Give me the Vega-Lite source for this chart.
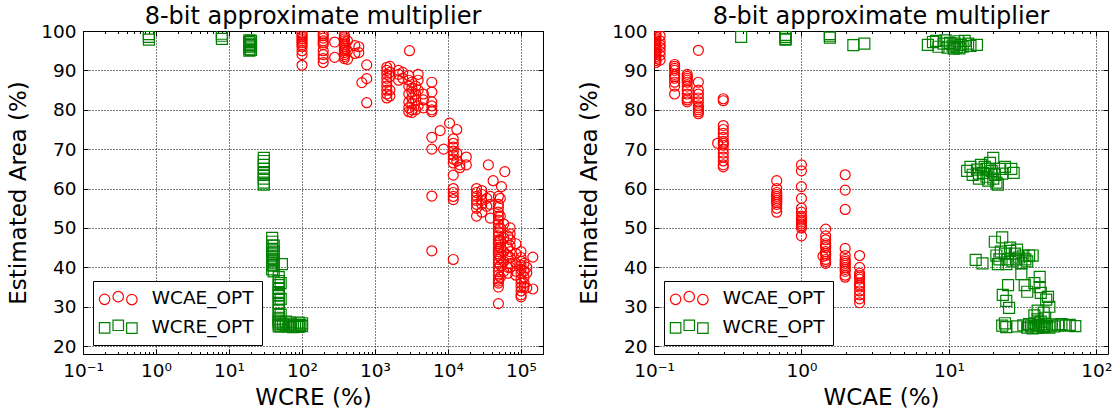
{
"$schema": "https://vega.github.io/schema/vega-lite/v6.json",
"padding": {"left": 7, "top": 4, "right": 5, "bottom": 2},
"background": "white",
"config": {
  "font": "DejaVu Sans",
  "view": {"stroke": "black", "strokeWidth": 1},
  "axis": {"domain": false, "tickColor": "black", "tickWidth": 1, "labelColor": "black", "titleColor": "black", "labelFont": "DejaVu Sans", "titleFont": "DejaVu Sans", "labelFontSize": 18.5, "titleFontSize": 23, "titleFontWeight": "normal", "gridColor": "black", "gridDash": [1, 2], "gridWidth": 1, "gridOpacity": 1, "labelOverlap": false, "labelFlush": false},
  "title": {"fontSize": 24, "fontWeight": "normal", "font": "DejaVu Sans", "color": "black", "offset": -7, "anchor": "middle"},
  "legend": {"orient": "bottom-left", "offset": 9.5, "strokeColor": "black", "fillColor": "white", "padding": 8, "cornerRadius": 0, "labelFontSize": 18.5, "labelAlign": "right", "symbolSize": 110, "symbolStrokeWidth": 1.2, "symbolOffset": 8, "labelOffset": 126, "rowPadding": 9.6, "symbolFillColor": "transparent", "symbolOpacity": 1, "labelFont": "DejaVu Sans", "labelColor": "black"}
},
"datasets": {
"wcre": [
{"series":"WCAE_OPT","err":100,"area":99.5},{"series":"WCAE_OPT","err":100,"area":99},{"series":"WCAE_OPT","err":100,"area":98.5},{"series":"WCAE_OPT","err":100,"area":98},{"series":"WCAE_OPT","err":100,"area":97.5},{"series":"WCAE_OPT","err":100,"area":97},{"series":"WCAE_OPT","err":100,"area":96.5},{"series":"WCAE_OPT","err":100,"area":96},{"series":"WCAE_OPT","err":100,"area":95},{"series":"WCAE_OPT","err":100,"area":94},{"series":"WCAE_OPT","err":100,"area":91.3},
{"series":"WCAE_OPT","err":195,"area":99.3},{"series":"WCAE_OPT","err":195,"area":98.8},{"series":"WCAE_OPT","err":195,"area":98.2},{"series":"WCAE_OPT","err":195,"area":97.5},{"series":"WCAE_OPT","err":195,"area":97},{"series":"WCAE_OPT","err":195,"area":96.5},{"series":"WCAE_OPT","err":195,"area":95},{"series":"WCAE_OPT","err":195,"area":94},{"series":"WCAE_OPT","err":195,"area":93},{"series":"WCAE_OPT","err":195,"area":92},
{"series":"WCAE_OPT","err":280,"area":97.2},{"series":"WCAE_OPT","err":280,"area":93.3},
{"series":"WCAE_OPT","err":380,"area":99},{"series":"WCAE_OPT","err":380,"area":98.5},{"series":"WCAE_OPT","err":380,"area":98},{"series":"WCAE_OPT","err":380,"area":97.5},{"series":"WCAE_OPT","err":380,"area":97},{"series":"WCAE_OPT","err":380,"area":96.5},{"series":"WCAE_OPT","err":380,"area":96},{"series":"WCAE_OPT","err":380,"area":95.5},{"series":"WCAE_OPT","err":380,"area":95},{"series":"WCAE_OPT","err":380,"area":94.5},{"series":"WCAE_OPT","err":380,"area":94},{"series":"WCAE_OPT","err":380,"area":93.5},{"series":"WCAE_OPT","err":380,"area":93},
{"series":"WCAE_OPT","err":420,"area":97.5},{"series":"WCAE_OPT","err":420,"area":95},{"series":"WCAE_OPT","err":420,"area":92.8},
{"series":"WCAE_OPT","err":530,"area":96.3},{"series":"WCAE_OPT","err":530,"area":94.3},{"series":"WCAE_OPT","err":600,"area":96},{"series":"WCAE_OPT","err":600,"area":94.5},
{"series":"WCAE_OPT","err":660,"area":86.9},{"series":"WCAE_OPT","err":770,"area":91.4},{"series":"WCAE_OPT","err":770,"area":87.9},{"series":"WCAE_OPT","err":770,"area":81.8},
{"series":"WCAE_OPT","err":1450,"area":90.8},{"series":"WCAE_OPT","err":1450,"area":90},{"series":"WCAE_OPT","err":1450,"area":89},{"series":"WCAE_OPT","err":1450,"area":88},{"series":"WCAE_OPT","err":1450,"area":87},{"series":"WCAE_OPT","err":1450,"area":86},{"series":"WCAE_OPT","err":1450,"area":85},{"series":"WCAE_OPT","err":1450,"area":84},{"series":"WCAE_OPT","err":1450,"area":83},
{"series":"WCAE_OPT","err":1600,"area":91},{"series":"WCAE_OPT","err":1600,"area":89.5},{"series":"WCAE_OPT","err":1600,"area":88.5},{"series":"WCAE_OPT","err":1600,"area":85},{"series":"WCAE_OPT","err":1600,"area":83.5},
{"series":"WCAE_OPT","err":2100,"area":90},{"series":"WCAE_OPT","err":2100,"area":89},{"series":"WCAE_OPT","err":2100,"area":87.5},{"series":"WCAE_OPT","err":2400,"area":89.5},{"series":"WCAE_OPT","err":2400,"area":88},
{"series":"WCAE_OPT","err":2970,"area":95},
{"series":"WCAE_OPT","err":2900,"area":88.7},{"series":"WCAE_OPT","err":2900,"area":87.5},{"series":"WCAE_OPT","err":2900,"area":86},{"series":"WCAE_OPT","err":2900,"area":84},{"series":"WCAE_OPT","err":2900,"area":82},{"series":"WCAE_OPT","err":2900,"area":80.5},{"series":"WCAE_OPT","err":2900,"area":79.5},
{"series":"WCAE_OPT","err":3200,"area":87},{"series":"WCAE_OPT","err":3200,"area":85.5},{"series":"WCAE_OPT","err":3200,"area":84.5},{"series":"WCAE_OPT","err":3200,"area":83},{"series":"WCAE_OPT","err":3200,"area":81.5},{"series":"WCAE_OPT","err":3200,"area":80},{"series":"WCAE_OPT","err":3200,"area":79.3},
{"series":"WCAE_OPT","err":3600,"area":86},{"series":"WCAE_OPT","err":3600,"area":84},{"series":"WCAE_OPT","err":3600,"area":82.5},{"series":"WCAE_OPT","err":3600,"area":80},
{"series":"WCAE_OPT","err":3900,"area":89},{"series":"WCAE_OPT","err":3900,"area":87.5},{"series":"WCAE_OPT","err":3900,"area":85},{"series":"WCAE_OPT","err":3900,"area":81},
{"series":"WCAE_OPT","err":4600,"area":84},{"series":"WCAE_OPT","err":4600,"area":82.5},{"series":"WCAE_OPT","err":4600,"area":80.5},
{"series":"WCAE_OPT","err":6000,"area":87},{"series":"WCAE_OPT","err":6000,"area":84.5},{"series":"WCAE_OPT","err":6000,"area":82},{"series":"WCAE_OPT","err":6000,"area":81},{"series":"WCAE_OPT","err":6000,"area":80},{"series":"WCAE_OPT","err":6000,"area":79.5},{"series":"WCAE_OPT","err":6000,"area":73},{"series":"WCAE_OPT","err":6000,"area":70},{"series":"WCAE_OPT","err":6000,"area":58.1},{"series":"WCAE_OPT","err":6000,"area":44.2},
{"series":"WCAE_OPT","err":7800,"area":74.7},{"series":"WCAE_OPT","err":8700,"area":70},{"series":"WCAE_OPT","err":10500,"area":76.6},
{"series":"WCAE_OPT","err":11800,"area":72.6},{"series":"WCAE_OPT","err":11800,"area":71.5},{"series":"WCAE_OPT","err":11800,"area":70.5},{"series":"WCAE_OPT","err":11800,"area":69.5},{"series":"WCAE_OPT","err":11800,"area":68.5},{"series":"WCAE_OPT","err":11800,"area":67.5},{"series":"WCAE_OPT","err":11800,"area":66.5},{"series":"WCAE_OPT","err":11800,"area":63.4},{"series":"WCAE_OPT","err":11800,"area":60},{"series":"WCAE_OPT","err":11800,"area":59},{"series":"WCAE_OPT","err":11800,"area":58},{"series":"WCAE_OPT","err":11800,"area":57.2},{"series":"WCAE_OPT","err":11800,"area":42},
{"series":"WCAE_OPT","err":13200,"area":75},{"series":"WCAE_OPT","err":13200,"area":69},{"series":"WCAE_OPT","err":13200,"area":67},
{"series":"WCAE_OPT","err":14500,"area":66},{"series":"WCAE_OPT","err":14500,"area":65.3},{"series":"WCAE_OPT","err":17800,"area":68},{"series":"WCAE_OPT","err":17800,"area":66},
{"series":"WCAE_OPT","err":24600,"area":60},{"series":"WCAE_OPT","err":24600,"area":59},{"series":"WCAE_OPT","err":24600,"area":58},{"series":"WCAE_OPT","err":24600,"area":57},{"series":"WCAE_OPT","err":24600,"area":56},{"series":"WCAE_OPT","err":24600,"area":55},{"series":"WCAE_OPT","err":24600,"area":53},
{"series":"WCAE_OPT","err":29000,"area":59.5},{"series":"WCAE_OPT","err":29000,"area":58.5},{"series":"WCAE_OPT","err":29000,"area":57},{"series":"WCAE_OPT","err":29000,"area":56},{"series":"WCAE_OPT","err":29000,"area":54},
{"series":"WCAE_OPT","err":34000,"area":57.5},{"series":"WCAE_OPT","err":34000,"area":55.5},{"series":"WCAE_OPT","err":38000,"area":58},{"series":"WCAE_OPT","err":38000,"area":56},{"series":"WCAE_OPT","err":38000,"area":52.5},
{"series":"WCAE_OPT","err":35700,"area":66},{"series":"WCAE_OPT","err":41500,"area":62},{"series":"WCAE_OPT","err":60000,"area":64.3},{"series":"WCAE_OPT","err":54000,"area":60.5},
{"series":"WCAE_OPT","err":49000,"area":58},{"series":"WCAE_OPT","err":49000,"area":56},{"series":"WCAE_OPT","err":49000,"area":55.2},{"series":"WCAE_OPT","err":49000,"area":54},{"series":"WCAE_OPT","err":49000,"area":53},{"series":"WCAE_OPT","err":49000,"area":52},{"series":"WCAE_OPT","err":49000,"area":51},{"series":"WCAE_OPT","err":49000,"area":50},{"series":"WCAE_OPT","err":49000,"area":49},{"series":"WCAE_OPT","err":49000,"area":48},{"series":"WCAE_OPT","err":49000,"area":47},{"series":"WCAE_OPT","err":49000,"area":46.5},{"series":"WCAE_OPT","err":49000,"area":46},{"series":"WCAE_OPT","err":49000,"area":45},{"series":"WCAE_OPT","err":49000,"area":44.5},{"series":"WCAE_OPT","err":49000,"area":44},{"series":"WCAE_OPT","err":49000,"area":43.5},{"series":"WCAE_OPT","err":49000,"area":43},{"series":"WCAE_OPT","err":49000,"area":42},{"series":"WCAE_OPT","err":49000,"area":41},{"series":"WCAE_OPT","err":49000,"area":40},{"series":"WCAE_OPT","err":49000,"area":39},{"series":"WCAE_OPT","err":49000,"area":38},{"series":"WCAE_OPT","err":49000,"area":37},{"series":"WCAE_OPT","err":49000,"area":36.5},{"series":"WCAE_OPT","err":49000,"area":36},{"series":"WCAE_OPT","err":49000,"area":35},{"series":"WCAE_OPT","err":49000,"area":30.8},
{"series":"WCAE_OPT","err":52000,"area":57.5},{"series":"WCAE_OPT","err":52000,"area":53},{"series":"WCAE_OPT","err":52000,"area":50},{"series":"WCAE_OPT","err":52000,"area":47},{"series":"WCAE_OPT","err":52000,"area":45},{"series":"WCAE_OPT","err":52000,"area":42.5},{"series":"WCAE_OPT","err":52000,"area":40.5},{"series":"WCAE_OPT","err":52000,"area":37.5},
{"series":"WCAE_OPT","err":58000,"area":51},{"series":"WCAE_OPT","err":58000,"area":47.5},{"series":"WCAE_OPT","err":58000,"area":44},{"series":"WCAE_OPT","err":58000,"area":41.5},{"series":"WCAE_OPT","err":58000,"area":39},
{"series":"WCAE_OPT","err":66000,"area":48},{"series":"WCAE_OPT","err":66000,"area":45},{"series":"WCAE_OPT","err":66000,"area":43},{"series":"WCAE_OPT","err":66000,"area":40},{"series":"WCAE_OPT","err":66000,"area":38.5},
{"series":"WCAE_OPT","err":71000,"area":50},{"series":"WCAE_OPT","err":71000,"area":48.5},{"series":"WCAE_OPT","err":71000,"area":47},{"series":"WCAE_OPT","err":71000,"area":45.5},{"series":"WCAE_OPT","err":71000,"area":44},{"series":"WCAE_OPT","err":71000,"area":42.5},{"series":"WCAE_OPT","err":71000,"area":41},{"series":"WCAE_OPT","err":71000,"area":40},
{"series":"WCAE_OPT","err":85000,"area":46},{"series":"WCAE_OPT","err":85000,"area":43.5},{"series":"WCAE_OPT","err":85000,"area":41},{"series":"WCAE_OPT","err":85000,"area":39},{"series":"WCAE_OPT","err":85000,"area":38},
{"series":"WCAE_OPT","err":100000,"area":44},{"series":"WCAE_OPT","err":100000,"area":42.5},{"series":"WCAE_OPT","err":100000,"area":41.6},{"series":"WCAE_OPT","err":100000,"area":40.5},{"series":"WCAE_OPT","err":100000,"area":39.5},{"series":"WCAE_OPT","err":100000,"area":38.5},{"series":"WCAE_OPT","err":100000,"area":37},{"series":"WCAE_OPT","err":100000,"area":36},{"series":"WCAE_OPT","err":100000,"area":35},{"series":"WCAE_OPT","err":100000,"area":34},{"series":"WCAE_OPT","err":100000,"area":33},{"series":"WCAE_OPT","err":100000,"area":32.5},
{"series":"WCAE_OPT","err":110000,"area":41},{"series":"WCAE_OPT","err":110000,"area":39},{"series":"WCAE_OPT","err":110000,"area":37.5},{"series":"WCAE_OPT","err":110000,"area":36},{"series":"WCAE_OPT","err":110000,"area":35},
{"series":"WCAE_OPT","err":120000,"area":40},{"series":"WCAE_OPT","err":120000,"area":38.6},{"series":"WCAE_OPT","err":120000,"area":34.8},{"series":"WCAE_OPT","err":145000,"area":42.6},{"series":"WCAE_OPT","err":145000,"area":34.5},
{"series":"WCRE_OPT","err":0.8,"area":97.8},{"series":"WCRE_OPT","err":0.8,"area":98.5},{"series":"WCRE_OPT","err":0.8,"area":99.2},
{"series":"WCRE_OPT","err":8,"area":98},{"series":"WCRE_OPT","err":8,"area":98.8},{"series":"WCRE_OPT","err":8,"area":99.3},
{"series":"WCRE_OPT","err":19,"area":95},{"series":"WCRE_OPT","err":19,"area":95.5},{"series":"WCRE_OPT","err":19,"area":96},{"series":"WCRE_OPT","err":19,"area":96.3},{"series":"WCRE_OPT","err":19,"area":96.8},{"series":"WCRE_OPT","err":19,"area":97.2},{"series":"WCRE_OPT","err":19,"area":97.6},
{"series":"WCRE_OPT","err":20,"area":95.2},{"series":"WCRE_OPT","err":20,"area":96.5},{"series":"WCRE_OPT","err":20,"area":97.5},
{"series":"WCRE_OPT","err":30,"area":61},{"series":"WCRE_OPT","err":30,"area":61.5},{"series":"WCRE_OPT","err":30,"area":62.5},{"series":"WCRE_OPT","err":30,"area":63.5},{"series":"WCRE_OPT","err":30,"area":64},{"series":"WCRE_OPT","err":30,"area":65},{"series":"WCRE_OPT","err":30,"area":66},{"series":"WCRE_OPT","err":30,"area":67},{"series":"WCRE_OPT","err":30,"area":67.8},
{"series":"WCRE_OPT","err":39,"area":47.5},{"series":"WCRE_OPT","err":39,"area":46.5},{"series":"WCRE_OPT","err":39,"area":45.5},{"series":"WCRE_OPT","err":39,"area":44.5},{"series":"WCRE_OPT","err":39,"area":43.5},{"series":"WCRE_OPT","err":39,"area":43},{"series":"WCRE_OPT","err":39,"area":42.5},{"series":"WCRE_OPT","err":39,"area":42},{"series":"WCRE_OPT","err":39,"area":41.5},{"series":"WCRE_OPT","err":39,"area":41},{"series":"WCRE_OPT","err":39,"area":40.5},{"series":"WCRE_OPT","err":39,"area":39.5},
{"series":"WCRE_OPT","err":41,"area":45.5},{"series":"WCRE_OPT","err":41,"area":44},{"series":"WCRE_OPT","err":41,"area":42},{"series":"WCRE_OPT","err":41,"area":40.5},{"series":"WCRE_OPT","err":41,"area":39},
{"series":"WCRE_OPT","err":53,"area":40.8},
{"series":"WCRE_OPT","err":48,"area":37.5},{"series":"WCRE_OPT","err":48,"area":36.5},{"series":"WCRE_OPT","err":48,"area":35.5},{"series":"WCRE_OPT","err":48,"area":34.5},{"series":"WCRE_OPT","err":48,"area":33.5},{"series":"WCRE_OPT","err":48,"area":33},{"series":"WCRE_OPT","err":48,"area":32},{"series":"WCRE_OPT","err":48,"area":31},{"series":"WCRE_OPT","err":48,"area":30},{"series":"WCRE_OPT","err":48,"area":29},{"series":"WCRE_OPT","err":48,"area":28},{"series":"WCRE_OPT","err":48,"area":27},{"series":"WCRE_OPT","err":48,"area":26.5},{"series":"WCRE_OPT","err":48,"area":26},{"series":"WCRE_OPT","err":48,"area":25.5},{"series":"WCRE_OPT","err":48,"area":25},
{"series":"WCRE_OPT","err":51,"area":36},{"series":"WCRE_OPT","err":51,"area":32},{"series":"WCRE_OPT","err":51,"area":28},{"series":"WCRE_OPT","err":51,"area":26},{"series":"WCRE_OPT","err":51,"area":25},
{"series":"WCRE_OPT","err":55,"area":25.5},{"series":"WCRE_OPT","err":60,"area":25.2},{"series":"WCRE_OPT","err":60,"area":26.2},{"series":"WCRE_OPT","err":65,"area":25},{"series":"WCRE_OPT","err":68,"area":26},{"series":"WCRE_OPT","err":70,"area":25.5},{"series":"WCRE_OPT","err":75,"area":24.8},{"series":"WCRE_OPT","err":80,"area":25.3},{"series":"WCRE_OPT","err":85,"area":25},{"series":"WCRE_OPT","err":90,"area":24.9},{"series":"WCRE_OPT","err":90,"area":26},{"series":"WCRE_OPT","err":95,"area":25.4},{"series":"WCRE_OPT","err":100,"area":25.1},{"series":"WCRE_OPT","err":100,"area":25.8}
],
"wcae": [
{"series":"WCAE_OPT","err":0.103,"area":99.5},{"series":"WCAE_OPT","err":0.103,"area":99},{"series":"WCAE_OPT","err":0.103,"area":98.5},{"series":"WCAE_OPT","err":0.103,"area":98},{"series":"WCAE_OPT","err":0.103,"area":97.5},{"series":"WCAE_OPT","err":0.103,"area":97},{"series":"WCAE_OPT","err":0.103,"area":96.5},{"series":"WCAE_OPT","err":0.103,"area":96},{"series":"WCAE_OPT","err":0.103,"area":95.5},{"series":"WCAE_OPT","err":0.103,"area":95},{"series":"WCAE_OPT","err":0.103,"area":94.5},{"series":"WCAE_OPT","err":0.103,"area":94},{"series":"WCAE_OPT","err":0.103,"area":93.5},{"series":"WCAE_OPT","err":0.103,"area":93},{"series":"WCAE_OPT","err":0.103,"area":92.5},{"series":"WCAE_OPT","err":0.103,"area":92},
{"series":"WCAE_OPT","err":0.11,"area":98.8},{"series":"WCAE_OPT","err":0.11,"area":97.5},{"series":"WCAE_OPT","err":0.11,"area":96.5},{"series":"WCAE_OPT","err":0.11,"area":95.8},{"series":"WCAE_OPT","err":0.11,"area":94.8},{"series":"WCAE_OPT","err":0.11,"area":93.8},{"series":"WCAE_OPT","err":0.11,"area":92.6},
{"series":"WCAE_OPT","err":0.138,"area":91.5},{"series":"WCAE_OPT","err":0.138,"area":91},{"series":"WCAE_OPT","err":0.138,"area":90.5},{"series":"WCAE_OPT","err":0.138,"area":90},{"series":"WCAE_OPT","err":0.138,"area":89},{"series":"WCAE_OPT","err":0.138,"area":88.5},{"series":"WCAE_OPT","err":0.138,"area":88},{"series":"WCAE_OPT","err":0.138,"area":87},{"series":"WCAE_OPT","err":0.138,"area":86},{"series":"WCAE_OPT","err":0.138,"area":84},
{"series":"WCAE_OPT","err":0.168,"area":89},{"series":"WCAE_OPT","err":0.168,"area":88.5},{"series":"WCAE_OPT","err":0.168,"area":88},{"series":"WCAE_OPT","err":0.168,"area":87.5},{"series":"WCAE_OPT","err":0.168,"area":87},{"series":"WCAE_OPT","err":0.168,"area":86},{"series":"WCAE_OPT","err":0.168,"area":85},{"series":"WCAE_OPT","err":0.168,"area":84},{"series":"WCAE_OPT","err":0.168,"area":83},{"series":"WCAE_OPT","err":0.168,"area":82.5},{"series":"WCAE_OPT","err":0.168,"area":82},
{"series":"WCAE_OPT","err":0.2,"area":95.1},{"series":"WCAE_OPT","err":0.2,"area":87},{"series":"WCAE_OPT","err":0.2,"area":85},{"series":"WCAE_OPT","err":0.2,"area":84},{"series":"WCAE_OPT","err":0.2,"area":83},{"series":"WCAE_OPT","err":0.2,"area":82},{"series":"WCAE_OPT","err":0.2,"area":81},{"series":"WCAE_OPT","err":0.2,"area":80.5},{"series":"WCAE_OPT","err":0.2,"area":80},{"series":"WCAE_OPT","err":0.2,"area":79.5},{"series":"WCAE_OPT","err":0.2,"area":79},
{"series":"WCAE_OPT","err":0.27,"area":71.5},
{"series":"WCAE_OPT","err":0.295,"area":82.8},{"series":"WCAE_OPT","err":0.295,"area":82.3},{"series":"WCAE_OPT","err":0.295,"area":76},{"series":"WCAE_OPT","err":0.295,"area":75},{"series":"WCAE_OPT","err":0.295,"area":74},{"series":"WCAE_OPT","err":0.295,"area":73},{"series":"WCAE_OPT","err":0.295,"area":72},{"series":"WCAE_OPT","err":0.295,"area":71.5},{"series":"WCAE_OPT","err":0.295,"area":71},{"series":"WCAE_OPT","err":0.295,"area":70},{"series":"WCAE_OPT","err":0.295,"area":69},{"series":"WCAE_OPT","err":0.295,"area":68},{"series":"WCAE_OPT","err":0.295,"area":67},{"series":"WCAE_OPT","err":0.295,"area":66},{"series":"WCAE_OPT","err":0.295,"area":65.5},
{"series":"WCAE_OPT","err":0.68,"area":62},{"series":"WCAE_OPT","err":0.68,"area":60},{"series":"WCAE_OPT","err":0.68,"area":59},{"series":"WCAE_OPT","err":0.68,"area":58.5},{"series":"WCAE_OPT","err":0.68,"area":58},{"series":"WCAE_OPT","err":0.68,"area":57.5},{"series":"WCAE_OPT","err":0.68,"area":57},{"series":"WCAE_OPT","err":0.68,"area":56.5},{"series":"WCAE_OPT","err":0.68,"area":56},{"series":"WCAE_OPT","err":0.68,"area":55},{"series":"WCAE_OPT","err":0.68,"area":54},
{"series":"WCAE_OPT","err":1.0,"area":66},{"series":"WCAE_OPT","err":1.0,"area":64.5},{"series":"WCAE_OPT","err":1.0,"area":60.5},{"series":"WCAE_OPT","err":1.0,"area":57.5},{"series":"WCAE_OPT","err":1.0,"area":55},{"series":"WCAE_OPT","err":1.0,"area":54},{"series":"WCAE_OPT","err":1.0,"area":53},{"series":"WCAE_OPT","err":1.0,"area":52.5},{"series":"WCAE_OPT","err":1.0,"area":52},{"series":"WCAE_OPT","err":1.0,"area":51.5},{"series":"WCAE_OPT","err":1.0,"area":51},{"series":"WCAE_OPT","err":1.0,"area":50.5},{"series":"WCAE_OPT","err":1.0,"area":50},{"series":"WCAE_OPT","err":1.0,"area":48},
{"series":"WCAE_OPT","err":1.4,"area":42.8},
{"series":"WCAE_OPT","err":1.46,"area":49.7},{"series":"WCAE_OPT","err":1.46,"area":48},{"series":"WCAE_OPT","err":1.46,"area":47},{"series":"WCAE_OPT","err":1.46,"area":46},{"series":"WCAE_OPT","err":1.46,"area":45.5},{"series":"WCAE_OPT","err":1.46,"area":45},{"series":"WCAE_OPT","err":1.46,"area":44},{"series":"WCAE_OPT","err":1.46,"area":43.5},{"series":"WCAE_OPT","err":1.46,"area":43},{"series":"WCAE_OPT","err":1.46,"area":42},{"series":"WCAE_OPT","err":1.46,"area":41.5},{"series":"WCAE_OPT","err":1.46,"area":41},
{"series":"WCAE_OPT","err":1.98,"area":63.5},{"series":"WCAE_OPT","err":1.98,"area":59.6},{"series":"WCAE_OPT","err":1.98,"area":54.7},{"series":"WCAE_OPT","err":1.98,"area":44.8},{"series":"WCAE_OPT","err":1.98,"area":43},{"series":"WCAE_OPT","err":1.98,"area":42},{"series":"WCAE_OPT","err":1.98,"area":41.5},{"series":"WCAE_OPT","err":1.98,"area":41},{"series":"WCAE_OPT","err":1.98,"area":40.5},{"series":"WCAE_OPT","err":1.98,"area":40},{"series":"WCAE_OPT","err":1.98,"area":39.5},{"series":"WCAE_OPT","err":1.98,"area":39},{"series":"WCAE_OPT","err":1.98,"area":38},{"series":"WCAE_OPT","err":1.98,"area":37.5},
{"series":"WCAE_OPT","err":2.48,"area":43},{"series":"WCAE_OPT","err":2.48,"area":40},{"series":"WCAE_OPT","err":2.48,"area":38.5},{"series":"WCAE_OPT","err":2.48,"area":38},{"series":"WCAE_OPT","err":2.48,"area":37.5},{"series":"WCAE_OPT","err":2.48,"area":37},{"series":"WCAE_OPT","err":2.48,"area":36},{"series":"WCAE_OPT","err":2.48,"area":35.5},{"series":"WCAE_OPT","err":2.48,"area":35},{"series":"WCAE_OPT","err":2.48,"area":34},{"series":"WCAE_OPT","err":2.48,"area":33},{"series":"WCAE_OPT","err":2.48,"area":32},{"series":"WCAE_OPT","err":2.48,"area":31},
{"series":"WCRE_OPT","err":0.39,"area":98.5},{"series":"WCRE_OPT","err":0.78,"area":99},{"series":"WCRE_OPT","err":0.78,"area":98.5},{"series":"WCRE_OPT","err":0.78,"area":98},{"series":"WCRE_OPT","err":0.78,"area":97.8},{"series":"WCRE_OPT","err":1.56,"area":98.8},{"series":"WCRE_OPT","err":1.56,"area":98.3},{"series":"WCRE_OPT","err":1.56,"area":99.2},{"series":"WCRE_OPT","err":2.25,"area":96.4},{"series":"WCRE_OPT","err":2.67,"area":96.8},
{"series":"WCRE_OPT","err":7.2,"area":96.5},{"series":"WCRE_OPT","err":7.8,"area":97.2},{"series":"WCRE_OPT","err":8.2,"area":97.5},{"series":"WCRE_OPT","err":8.5,"area":96},{"series":"WCRE_OPT","err":9.2,"area":96.8},{"series":"WCRE_OPT","err":9.5,"area":97.6},{"series":"WCRE_OPT","err":9.8,"area":95.8},{"series":"WCRE_OPT","err":10.2,"area":97},{"series":"WCRE_OPT","err":10.6,"area":96.3},{"series":"WCRE_OPT","err":10.8,"area":95.5},{"series":"WCRE_OPT","err":11,"area":96.8},{"series":"WCRE_OPT","err":11.3,"area":95.9},{"series":"WCRE_OPT","err":11.6,"area":97.4},{"series":"WCRE_OPT","err":11.8,"area":95.6},{"series":"WCRE_OPT","err":12,"area":96.5},{"series":"WCRE_OPT","err":12.4,"area":96},{"series":"WCRE_OPT","err":12.8,"area":97.5},{"series":"WCRE_OPT","err":13.5,"area":96.8},{"series":"WCRE_OPT","err":14,"area":96.2},{"series":"WCRE_OPT","err":15.5,"area":96.5},
{"series":"WCRE_OPT","err":13.3,"area":64.5},{"series":"WCRE_OPT","err":14,"area":65.5},{"series":"WCRE_OPT","err":14.5,"area":63.5},{"series":"WCRE_OPT","err":15.5,"area":64.8},{"series":"WCRE_OPT","err":16,"area":62.5},{"series":"WCRE_OPT","err":16,"area":63.8},{"series":"WCRE_OPT","err":16.5,"area":66},{"series":"WCRE_OPT","err":17,"area":64},{"series":"WCRE_OPT","err":17.5,"area":65.5},{"series":"WCRE_OPT","err":18,"area":63},{"series":"WCRE_OPT","err":18,"area":65},{"series":"WCRE_OPT","err":18.5,"area":62},{"series":"WCRE_OPT","err":19,"area":66.5},{"series":"WCRE_OPT","err":19.5,"area":64.5},{"series":"WCRE_OPT","err":20,"area":67.8},{"series":"WCRE_OPT","err":20,"area":62.5},{"series":"WCRE_OPT","err":20.5,"area":63.5},{"series":"WCRE_OPT","err":21,"area":61.5},{"series":"WCRE_OPT","err":21.5,"area":61},{"series":"WCRE_OPT","err":22,"area":65},{"series":"WCRE_OPT","err":23,"area":63.8},{"series":"WCRE_OPT","err":24,"area":65.5},{"series":"WCRE_OPT","err":26.5,"area":65},{"series":"WCRE_OPT","err":27.5,"area":64},
{"series":"WCRE_OPT","err":15.2,"area":41.9},{"series":"WCRE_OPT","err":16.9,"area":41},{"series":"WCRE_OPT","err":20.5,"area":46.5},{"series":"WCRE_OPT","err":23,"area":47.6},{"series":"WCRE_OPT","err":21,"area":43},{"series":"WCRE_OPT","err":22,"area":42},{"series":"WCRE_OPT","err":22.5,"area":44},{"series":"WCRE_OPT","err":24,"area":43.5},{"series":"WCRE_OPT","err":25,"area":42},{"series":"WCRE_OPT","err":26,"area":45},{"series":"WCRE_OPT","err":27,"area":41.5},{"series":"WCRE_OPT","err":28,"area":43.5},{"series":"WCRE_OPT","err":29,"area":44.5},{"series":"WCRE_OPT","err":30,"area":42.5},{"series":"WCRE_OPT","err":31,"area":41},{"series":"WCRE_OPT","err":32,"area":43},{"series":"WCRE_OPT","err":33,"area":42},{"series":"WCRE_OPT","err":34,"area":41.5},{"series":"WCRE_OPT","err":35,"area":43},{"series":"WCRE_OPT","err":37,"area":43},{"series":"WCRE_OPT","err":31,"area":38.3},{"series":"WCRE_OPT","err":21.5,"area":40.8},{"series":"WCRE_OPT","err":24.5,"area":40.8},{"series":"WCRE_OPT","err":26,"area":44.2},{"series":"WCRE_OPT","err":28.5,"area":42},
{"series":"WCRE_OPT","err":25.2,"area":35.5},{"series":"WCRE_OPT","err":23.2,"area":33},{"series":"WCRE_OPT","err":25.6,"area":29.7},{"series":"WCRE_OPT","err":24.5,"area":31.5},{"series":"WCRE_OPT","err":32.7,"area":35.5},{"series":"WCRE_OPT","err":34,"area":33.8},{"series":"WCRE_OPT","err":38,"area":36},{"series":"WCRE_OPT","err":41.3,"area":37.6},{"series":"WCRE_OPT","err":41.3,"area":35},{"series":"WCRE_OPT","err":42,"area":33.5},{"series":"WCRE_OPT","err":45.7,"area":31.8},{"series":"WCRE_OPT","err":47,"area":32.5},{"series":"WCRE_OPT","err":44,"area":28.5},{"series":"WCRE_OPT","err":48,"area":30},{"series":"WCRE_OPT","err":40,"area":29},
{"series":"WCRE_OPT","err":23,"area":25.2},{"series":"WCRE_OPT","err":24,"area":25.8},{"series":"WCRE_OPT","err":24.5,"area":24.8},{"series":"WCRE_OPT","err":29,"area":25},{"series":"WCRE_OPT","err":32,"area":25.3},{"series":"WCRE_OPT","err":34,"area":24.7},{"series":"WCRE_OPT","err":35,"area":25.6},{"series":"WCRE_OPT","err":36,"area":25},{"series":"WCRE_OPT","err":37,"area":24.5},{"series":"WCRE_OPT","err":38,"area":25.8},{"series":"WCRE_OPT","err":39,"area":25.2},{"series":"WCRE_OPT","err":40,"area":24.6},{"series":"WCRE_OPT","err":41,"area":25.4},{"series":"WCRE_OPT","err":42,"area":26.2},{"series":"WCRE_OPT","err":43,"area":25},{"series":"WCRE_OPT","err":44,"area":24.8},{"series":"WCRE_OPT","err":45,"area":25.5},{"series":"WCRE_OPT","err":46,"area":25.1},{"series":"WCRE_OPT","err":48,"area":24.7},{"series":"WCRE_OPT","err":50,"area":25.5},{"series":"WCRE_OPT","err":52,"area":25},{"series":"WCRE_OPT","err":55,"area":25.3},{"series":"WCRE_OPT","err":58,"area":25.6},{"series":"WCRE_OPT","err":62,"area":25.2},{"series":"WCRE_OPT","err":66,"area":25.4},{"series":"WCRE_OPT","err":72,"area":25.1},{"series":"WCRE_OPT","err":40,"area":26.8},{"series":"WCRE_OPT","err":45,"area":27.2},{"series":"WCRE_OPT","err":38,"area":27.8}
]
},
"spacing": 34,
"resolve": {"scale": {"color": "independent", "shape": "independent"}},
"hconcat": [
{
  "title": "8-bit approximate multiplier",
  "width": 460, "height": 323,
  "data": {"name": "wcre"},
  "layer": [
    {"transform": [{"filter": "datum.series === 'WCAE_OPT'"}],
     "mark": {"type": "point", "filled": false, "strokeWidth": 1.2, "opacity": 1, "clip": true, "size": 110, "shape": "M-0.95,0A0.95,0.95,0,1,1,0.95,0A0.95,0.95,0,1,1,-0.95,0Z"},
     "encoding": {
       "x": {"field": "err", "type": "quantitative", "scale": {"type": "log", "domain": [0.1, 200000], "nice": false},
             "axis": {"orient": "bottom", "title": "WCRE (%)", "titlePadding": 4,
               "values": [0.1,0.2,0.3,0.4,0.5,0.6,0.7,0.8,0.9,1,2,3,4,5,6,7,8,9,10,20,30,40,50,60,70,80,90,100,200,300,400,500,600,700,800,900,1000,2000,3000,4000,5000,6000,7000,8000,9000,10000,20000,30000,40000,50000,60000,70000,80000,90000,100000,200000],
               "labelExpr": "abs(log(datum.value)/LN10-round(log(datum.value)/LN10))<0.001 ? '10' + replace(replace(replace(replace(replace(replace(replace(''+round(log(datum.value)/LN10),'-','⁻'),'0','⁰'),'1','¹'),'2','²'),'3','³'),'4','⁴'),'5','⁵') : ''",
               "grid": true,
               "gridOpacity": {"condition": {"test": "abs(log(datum.value)/LN10-round(log(datum.value)/LN10))<0.001", "value": 1}, "value": 0},
               "tickSize": {"condition": {"test": "abs(log(datum.value)/LN10-round(log(datum.value)/LN10))<0.001", "value": -5}, "value": -2.5},
               "labelPadding": 12}},
       "y": {"field": "area", "type": "quantitative", "scale": {"domain": [18, 100], "nice": false, "zero": false},
             "axis": {"orient": "left", "title": "Estimated Area (%)", "values": [20,30,40,50,60,70,80,90,100], "grid": true, "tickSize": -5, "labelPadding": 12, "titlePadding": 10}},
       "color": {"field": "series", "type": "nominal", "scale": {"domain": ["WCAE_OPT", "WCRE_OPT"], "range": ["#ff0000", "#008000"]}, "legend": {"title": null}}
     }},
    {"transform": [{"filter": "datum.series === 'WCRE_OPT'"}],
     "mark": {"type": "point", "filled": false, "strokeWidth": 1.2, "opacity": 1, "clip": true, "size": 110, "shape": "M-1.05,-1.05H1.05V1.05H-1.05Z"},
     "encoding": {
       "x": {"field": "err", "type": "quantitative", "axis": null},
       "y": {"field": "area", "type": "quantitative", "axis": null},
       "color": {"field": "series", "type": "nominal", "scale": {"domain": ["WCAE_OPT", "WCRE_OPT"], "range": ["#ff0000", "#008000"]}, "legend": {"title": null}}
     }},
    {"mark": {"type": "point", "opacity": 0, "filled": false},
     "encoding": {
       "x": {"field": "err", "type": "quantitative",
             "axis": {"orient": "top", "title": null, "labels": false, "grid": false,
               "values": [0.1,0.2,0.3,0.4,0.5,0.6,0.7,0.8,0.9,1,2,3,4,5,6,7,8,9,10,20,30,40,50,60,70,80,90,100,200,300,400,500,600,700,800,900,1000,2000,3000,4000,5000,6000,7000,8000,9000,10000,20000,30000,40000,50000,60000,70000,80000,90000,100000,200000],
               "tickSize": {"condition": {"test": "abs(log(datum.value)/LN10-round(log(datum.value)/LN10))<0.001", "value": -5}, "value": -2.5}}},
       "y": {"field": "area", "type": "quantitative",
             "axis": {"orient": "right", "title": null, "labels": false, "grid": false, "values": [20,30,40,50,60,70,80,90,100], "tickSize": -5}},
       "shape": {"field": "series", "type": "nominal", "scale": {"domain": ["WCAE_OPT", "WCRE_OPT"], "range": ["M-3.6,0.2A1,1,0,1,1,-1.6,0.2A1,1,0,1,1,-3.6,0.2ZM-1,-0.3A1,1,0,1,1,1,-0.3A1,1,0,1,1,-1,-0.3ZM1.6,0.25A1,1,0,1,1,3.6,0.25A1,1,0,1,1,1.6,0.25Z", "M-3.6,-0.8H-1.6V1.2H-3.6ZM-1,-1.3H1V0.7H-1ZM1.6,-0.75H3.6V1.25H1.6Z"]}, "legend": {"title": null}}
     }}
  ],
  "resolve": {"axis": {"x": "independent", "y": "independent"}}
},
{
  "title": "8-bit approximate multiplier",
  "width": 454, "height": 323,
  "data": {"name": "wcae"},
  "layer": [
    {"transform": [{"filter": "datum.series === 'WCAE_OPT'"}],
     "mark": {"type": "point", "filled": false, "strokeWidth": 1.2, "opacity": 1, "clip": true, "size": 110, "shape": "M-0.95,0A0.95,0.95,0,1,1,0.95,0A0.95,0.95,0,1,1,-0.95,0Z"},
     "encoding": {
       "x": {"field": "err", "type": "quantitative", "scale": {"type": "log", "domain": [0.1, 120], "nice": false},
             "axis": {"orient": "bottom", "title": "WCAE (%)", "titlePadding": 4,
               "values": [0.1,0.2,0.3,0.4,0.5,0.6,0.7,0.8,0.9,1,2,3,4,5,6,7,8,9,10,20,30,40,50,60,70,80,90,100],
               "labelExpr": "abs(log(datum.value)/LN10-round(log(datum.value)/LN10))<0.001 ? '10' + replace(replace(replace(replace(replace(replace(replace(''+round(log(datum.value)/LN10),'-','⁻'),'0','⁰'),'1','¹'),'2','²'),'3','³'),'4','⁴'),'5','⁵') : ''",
               "grid": true,
               "gridOpacity": {"condition": {"test": "abs(log(datum.value)/LN10-round(log(datum.value)/LN10))<0.001", "value": 1}, "value": 0},
               "tickSize": {"condition": {"test": "abs(log(datum.value)/LN10-round(log(datum.value)/LN10))<0.001", "value": -5}, "value": -2.5},
               "labelPadding": 12}},
       "y": {"field": "area", "type": "quantitative", "scale": {"domain": [18, 100], "nice": false, "zero": false},
             "axis": {"orient": "left", "title": "Estimated Area (%)", "values": [20,30,40,50,60,70,80,90,100], "grid": true, "tickSize": -5, "labelPadding": 12, "titlePadding": 10}},
       "color": {"field": "series", "type": "nominal", "scale": {"domain": ["WCAE_OPT", "WCRE_OPT"], "range": ["#ff0000", "#008000"]}, "legend": {"title": null}}
     }},
    {"transform": [{"filter": "datum.series === 'WCRE_OPT'"}],
     "mark": {"type": "point", "filled": false, "strokeWidth": 1.2, "opacity": 1, "clip": true, "size": 110, "shape": "M-1.05,-1.05H1.05V1.05H-1.05Z"},
     "encoding": {
       "x": {"field": "err", "type": "quantitative", "axis": null},
       "y": {"field": "area", "type": "quantitative", "axis": null},
       "color": {"field": "series", "type": "nominal", "scale": {"domain": ["WCAE_OPT", "WCRE_OPT"], "range": ["#ff0000", "#008000"]}, "legend": {"title": null}}
     }},
    {"mark": {"type": "point", "opacity": 0, "filled": false},
     "encoding": {
       "x": {"field": "err", "type": "quantitative",
             "axis": {"orient": "top", "title": null, "labels": false, "grid": false,
               "values": [0.1,0.2,0.3,0.4,0.5,0.6,0.7,0.8,0.9,1,2,3,4,5,6,7,8,9,10,20,30,40,50,60,70,80,90,100],
               "tickSize": {"condition": {"test": "abs(log(datum.value)/LN10-round(log(datum.value)/LN10))<0.001", "value": -5}, "value": -2.5}}},
       "y": {"field": "area", "type": "quantitative",
             "axis": {"orient": "right", "title": null, "labels": false, "grid": false, "values": [20,30,40,50,60,70,80,90,100], "tickSize": -5}},
       "shape": {"field": "series", "type": "nominal", "scale": {"domain": ["WCAE_OPT", "WCRE_OPT"], "range": ["M-3.6,0.2A1,1,0,1,1,-1.6,0.2A1,1,0,1,1,-3.6,0.2ZM-1,-0.3A1,1,0,1,1,1,-0.3A1,1,0,1,1,-1,-0.3ZM1.6,0.25A1,1,0,1,1,3.6,0.25A1,1,0,1,1,1.6,0.25Z", "M-3.6,-0.8H-1.6V1.2H-3.6ZM-1,-1.3H1V0.7H-1ZM1.6,-0.75H3.6V1.25H1.6Z"]}, "legend": {"title": null}}
     }}
  ],
  "resolve": {"axis": {"x": "independent", "y": "independent"}}
}
]
}
